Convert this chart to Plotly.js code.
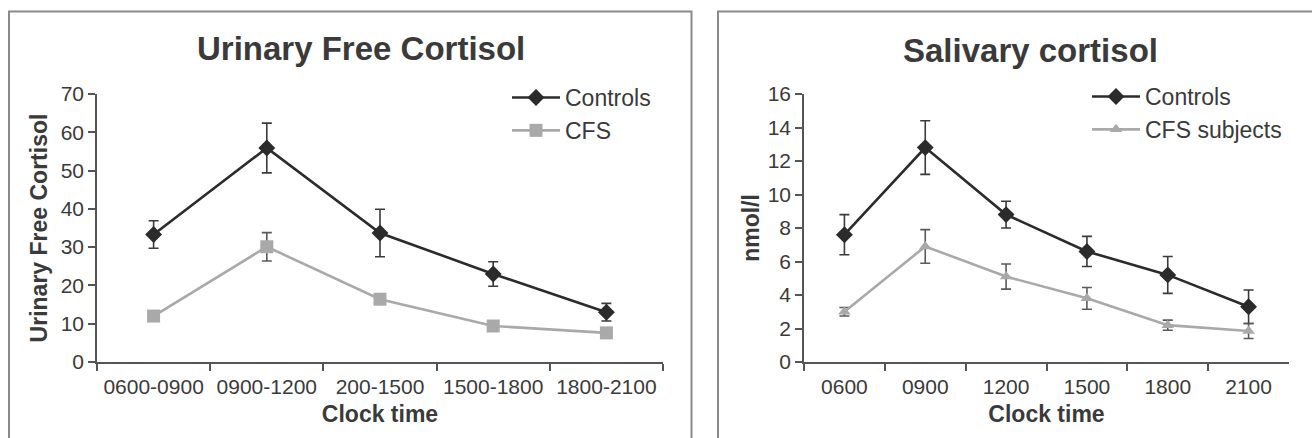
<!DOCTYPE html>
<html>
<head>
<meta charset="utf-8">
<script src="https://cdn.plot.ly/plotly-3.0.1.min.js"></script>
<style>
  html, body { margin: 0; padding: 0; background: #fff; }
  #chart { width: 1312px; height: 438px; }
</style>
</head>
<body>
<div id="chart"></div>
<script>
// ---- Data ----
const urinaryCategories = ['0600-0900', '0900-1200', '200-1500', '1500-1800', '1800-2100'];
const urinaryControls    = [33.3, 55.9, 33.7, 23.0, 13.0];
const urinaryControlsErr = [3.6, 6.5, 6.2, 3.2, 2.3];
const urinaryCFS         = [12.0, 30.1, 16.4, 9.4, 7.6];
const urinaryCFSErr      = [0.8, 3.7, 0.8, 0.6, 0.6];

const salivaryCategories = ['0600', '0900', '1200', '1500', '1800', '2100'];
const salivaryControls    = [7.6, 12.8, 8.8, 6.6, 5.2, 3.3];
const salivaryControlsErr = [1.2, 1.6, 0.8, 0.9, 1.1, 1.0];
const salivaryCFS         = [3.0, 6.9, 5.1, 3.8, 2.2, 1.85];
const salivaryCFSErr      = [0.25, 1.0, 0.75, 0.65, 0.3, 0.45];

// ---- Styling ----
const W = 1312, H = 438;
const FONT = 'Liberation Sans, Arial, Helvetica, sans-serif';
const DARK = '#2b2b2b';
const LIGHT = '#a9a9a9';
const AXIS = '#555555';
const TEXT = '#3a3a3a';
const px = v => v / W;
const py = v => (H - v) / H;

function errBar(arr, color) {
  return { type: 'data', array: arr, visible: true, color: color, thickness: 1.6, width: 5 };
}

const traces = [
  {
    x: urinaryCategories, y: urinaryControls, name: 'Controls',
    type: 'scatter', mode: 'lines+markers', xaxis: 'x', yaxis: 'y',
    legend: 'legend', legendgroup: 'a',
    line: { color: DARK, width: 2.6 },
    marker: { symbol: 'diamond', size: 13, color: DARK },
    error_y: errBar(urinaryControlsErr, '#3a3a3a')
  },
  {
    x: urinaryCategories, y: urinaryCFS, name: 'CFS',
    type: 'scatter', mode: 'lines+markers', xaxis: 'x', yaxis: 'y',
    legend: 'legend', legendgroup: 'b',
    line: { color: LIGHT, width: 2.6 },
    marker: { symbol: 'square', size: 13, color: LIGHT },
    error_y: errBar(urinaryCFSErr, '#5a5a5a')
  },
  {
    x: salivaryCategories, y: salivaryControls, name: 'Controls',
    type: 'scatter', mode: 'lines+markers', xaxis: 'x2', yaxis: 'y2',
    legend: 'legend2', legendgroup: 'c',
    line: { color: DARK, width: 2.6 },
    marker: { symbol: 'diamond', size: 13, color: DARK },
    error_y: errBar(salivaryControlsErr, '#3a3a3a')
  },
  {
    x: salivaryCategories, y: salivaryCFS, name: 'CFS subjects',
    type: 'scatter', mode: 'lines+markers', xaxis: 'x2', yaxis: 'y2',
    legend: 'legend2', legendgroup: 'd',
    line: { color: LIGHT, width: 2.6 },
    marker: { symbol: 'triangle-up', size: 11, color: LIGHT },
    error_y: errBar(salivaryCFSErr, '#5a5a5a')
  }
];

const yDomain = [py(362), py(94)];

function xAxis(domain, n, anchor) {
  return {
    domain: domain, anchor: anchor, type: 'category',
    range: [-0.5, n - 0.5],
    tickson: 'boundaries', ticks: 'outside', ticklen: 7, tickwidth: 1.6, tickcolor: AXIS,
    ticklabelstandoff: 5,
    showline: true, linecolor: AXIS, linewidth: 1.6,
    showgrid: false, zeroline: false,
    tickfont: { family: FONT, size: 21, color: TEXT },
    title: { text: 'Clock time', standoff: 9, font: { family: FONT, size: 23, color: TEXT, weight: 'bold' } },
    fixedrange: true
  };
}
function yAxis(domain, range, dtick, anchor, title, standoff) {
  return {
    domain: domain, anchor: anchor, range: range, dtick: dtick,
    ticks: 'outside', ticklen: 7, tickwidth: 1.6, tickcolor: AXIS,
    showline: true, linecolor: AXIS, linewidth: 1.6,
    showgrid: false, zeroline: false,
    tickfont: { family: FONT, size: 21, color: TEXT },
    title: { text: title, standoff: standoff, font: { family: FONT, size: 23, color: TEXT, weight: 'bold' } },
    fixedrange: true
  };
}

const legendBase = {
  bgcolor: 'rgba(0,0,0,0)', borderwidth: 0,
  font: { family: FONT, size: 23, color: TEXT },
  itemwidth: 48, traceorder: 'normal', tracegroupgap: 6,
  xanchor: 'left', yanchor: 'top', itemclick: false, itemdoubleclick: false
};

const layout = {
  width: W, height: H,
  margin: { l: 0, r: 0, t: 0, b: 0 },
  paper_bgcolor: '#ffffff', plot_bgcolor: '#ffffff',
  font: { family: FONT, color: TEXT },
  showlegend: true,
  xaxis: xAxis([px(97), px(663)], urinaryCategories.length, 'y'),
  yaxis: yAxis(yDomain, [0, 70], 10, 'x', 'Urinary Free Cortisol', 7),
  xaxis2: xAxis([px(804), px(1289)], salivaryCategories.length, 'y2'),
  yaxis2: yAxis(yDomain, [0, 16], 2, 'x2', 'nmol/l', 2),
  legend: Object.assign({}, legendBase, { x: px(507), y: py(76) }),
  legend2: Object.assign({}, legendBase, { x: px(1087), y: py(75) }),
  annotations: [
    { text: 'Urinary Free Cortisol', xref: 'paper', yref: 'paper', x: px(361), y: py(48),
      xanchor: 'center', yanchor: 'middle', showarrow: false,
      font: { family: FONT, size: 33, color: TEXT, weight: 'bold' } },
    { text: 'Salivary cortisol', xref: 'paper', yref: 'paper', x: px(1030), y: py(50),
      xanchor: 'center', yanchor: 'middle', showarrow: false,
      font: { family: FONT, size: 33, color: TEXT, weight: 'bold' } }
  ],
  shapes: [
    { type: 'rect', xref: 'paper', yref: 'paper', x0: px(9), x1: px(691.5), y0: -0.2, y1: py(11.5),
      line: { color: '#8a8a8a', width: 2 }, layer: 'below' },
    { type: 'rect', xref: 'paper', yref: 'paper', x0: px(718), x1: 1.2, y0: -0.2, y1: py(11.5),
      line: { color: '#8a8a8a', width: 2 }, layer: 'below' }
  ]
};

Plotly.newPlot('chart', traces, layout, { displayModeBar: false, staticPlot: false, responsive: false });
</script>
</body>
</html>
